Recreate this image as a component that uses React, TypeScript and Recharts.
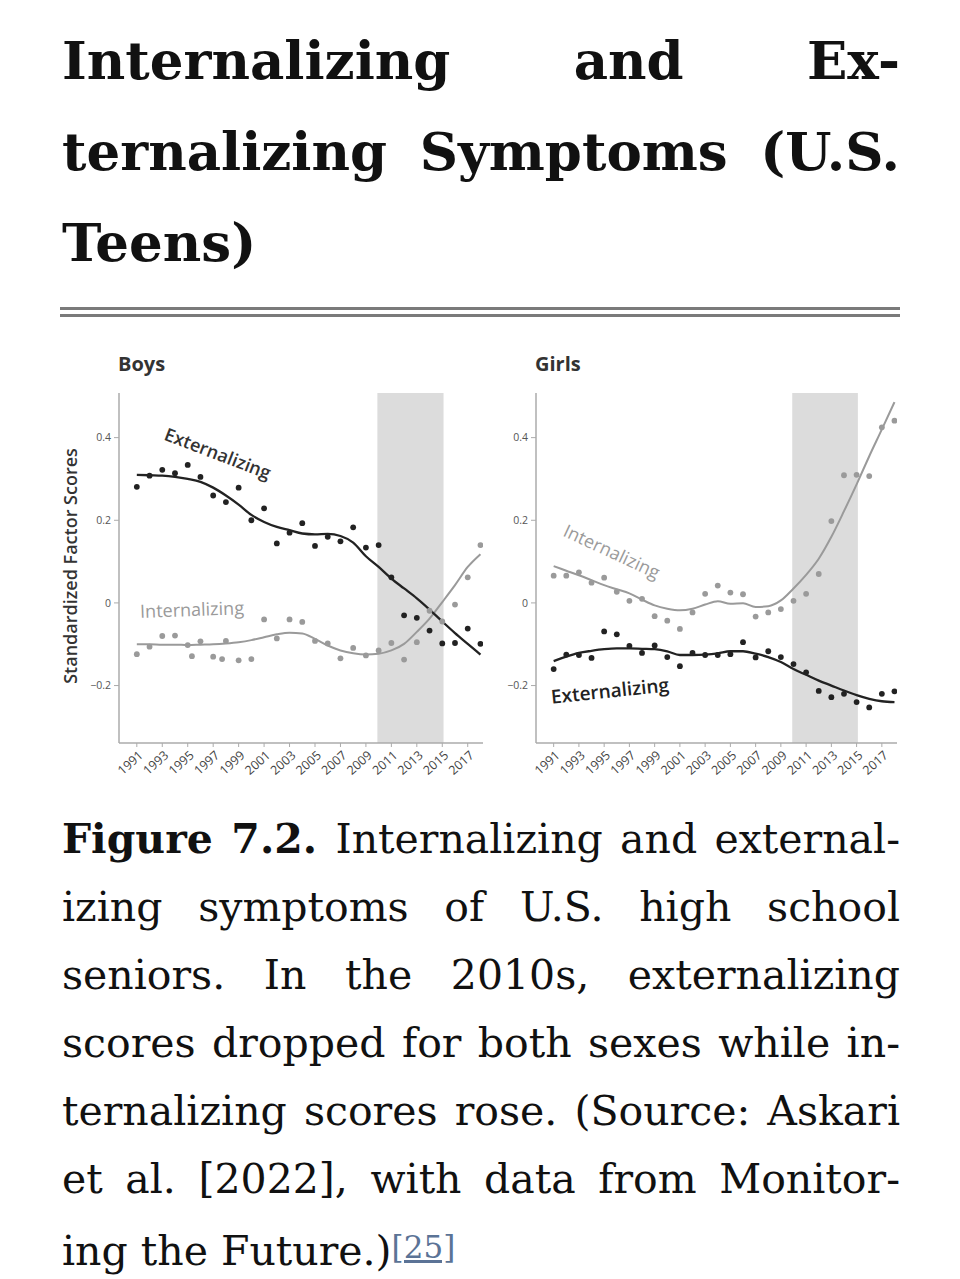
import React from 'react';
import { ComposedChart, Line, Scatter, XAxis, YAxis, ReferenceArea } from 'recharts';

// ---------- data ----------
const YEARS = [1991, 1992, 1993, 1994, 1995, 1996, 1997, 1998, 1999, 2000, 2001, 2002, 2003, 2004,
  2005, 2006, 2007, 2008, 2009, 2010, 2011, 2012, 2013, 2014, 2015, 2016, 2017, 2018];
const X_TICKS = [1991, 1993, 1995, 1997, 1999, 2001, 2003, 2005, 2007, 2009, 2011, 2013, 2015, 2017];
const Y_TICKS = [-0.2, 0, 0.2, 0.4];
const SHADE_START = 2009.9;
const SHADE_END = 2015.1;

// Boys
const boysExtDots = [0.281, 0.308, 0.322, 0.314, 0.334, 0.305, 0.260, 0.244, 0.279, 0.200, 0.229, 0.144, 0.170, 0.193,
  0.138, 0.160, 0.149, 0.183, 0.134, 0.140, 0.062, -0.030, -0.036, -0.067, -0.098, -0.097, -0.062, -0.099];
const boysExtTrend = [0.310, 0.309, 0.308, 0.305, 0.300, 0.293, 0.279, 0.260, 0.238, 0.213, 0.196, 0.184, 0.176, 0.168,
  0.166, 0.167, 0.162, 0.146, 0.113, 0.087, 0.059, 0.035, 0.011, -0.016, -0.045, -0.073, -0.099, -0.125];
const boysIntDotYears = [1991, 1992, 1993, 1994, 1995, 1995.33, 1996, 1997, 1997.7, 1998, 1999, 2000, 2001, 2002,
  2003, 2004, 2005, 2006, 2007, 2008, 2009, 2010, 2011, 2012, 2013, 2014, 2015, 2016, 2017, 2018];
const boysIntDots = [-0.124, -0.106, -0.080, -0.079, -0.102, -0.129, -0.093, -0.130, -0.136, -0.092, -0.139, -0.136,
  -0.040, -0.086, -0.040, -0.046, -0.092, -0.098, -0.134, -0.109, -0.127, -0.115, -0.097, -0.137, -0.095, -0.019,
  -0.045, -0.004, 0.062, 0.140];
const boysIntTrend = [-0.100, -0.100, -0.101, -0.101, -0.102, -0.101, -0.100, -0.098, -0.095, -0.090, -0.083, -0.076,
  -0.072, -0.074, -0.087, -0.103, -0.115, -0.122, -0.125, -0.123, -0.115, -0.099, -0.070, -0.038, 0.002, 0.043, 0.087, 0.118];

// Girls
const girlsIntDots = [0.066, 0.066, 0.074, 0.049, 0.061, 0.027, 0.005, 0.010, -0.032, -0.043, -0.063, -0.023, 0.022,
  0.042, 0.025, 0.021, -0.033, -0.023, -0.015, 0.005, 0.022, 0.070, 0.198, 0.309, 0.310, 0.307, 0.425, 0.441];
const girlsIntTrend = [0.089, 0.078, 0.067, 0.055, 0.043, 0.033, 0.023, 0.008, -0.006, -0.014, -0.018, -0.014, -0.004,
  0.004, -0.002, -0.001, -0.010, -0.008, 0.006, 0.035, 0.068, 0.107, 0.160, 0.222, 0.287, 0.355, 0.420, 0.486];
const girlsExtDots = [-0.160, -0.125, -0.126, -0.133, -0.069, -0.076, -0.104, -0.121, -0.103, -0.131, -0.153, -0.121,
  -0.126, -0.126, -0.124, -0.095, -0.132, -0.117, -0.131, -0.148, -0.168, -0.213, -0.228, -0.220, -0.240, -0.253,
  -0.220, -0.214];
const girlsExtTrend = [-0.141, -0.130, -0.121, -0.116, -0.112, -0.110, -0.110, -0.111, -0.112, -0.117, -0.126, -0.126,
  -0.125, -0.122, -0.117, -0.117, -0.123, -0.131, -0.143, -0.160, -0.174, -0.188, -0.200, -0.212, -0.223, -0.232,
  -0.238, -0.240];

const TITLE_LINES = ['Internalizing and Ex-', 'ternalizing Symptoms (U.S.', 'Teens)'];
const CAPTION_LINES = [
  'Internalizing and external-',
  'izing symptoms of U.S. high school',
  'seniors. In the 2010s, externalizing',
  'scores dropped for both sexes while in-',
  'ternalizing scores rose. (Source: Askari',
  'et al. [2022], with data from Monitor-',
  'ing the Future.)',
];

// ---------- helpers ----------
const toPts = (xs: number[], ys: number[]) => xs.map((x, i) => ({ year: x, v: ys[i] }));

const SANS = '"Open Sans", "Noto Sans", sans-serif';
const SERIF = '"DejaVu Serif", serif';
const BLACK = '#222222';
const GRAY = '#9a9a9a';
const AXIS = '#ababab';

const fmtY = (v: number) => (v === 0 ? '0' : v < 0 ? '\u2212' + Math.abs(v) : String(v));

function XTick(props: any) {
  const { x, y, payload } = props;
  return (
    <text
      x={0}
      y={0}
      transform={`translate(${x + 4},${y + 4}) rotate(-42)`}
      textAnchor="end"
      dominantBaseline="central"
      fontSize={12.5}
      fill="#444"
      fontFamily={SANS}
    >
      {payload.value}
    </text>
  );
}

const dotShape = (color: string) => (p: any) => <circle cx={p.cx} cy={p.cy} r={2.9} fill={color} />;

function Panel(props: {
  left: number; width: number; yAxisWidth: number; rightMargin: number;
  extDots: any[]; extTrend: any[]; intDots: any[]; intTrend: any[];
}) {
  const { left, width, yAxisWidth, rightMargin, extDots, extTrend, intDots, intTrend } = props;
  return (
    <div style={{ position: 'absolute', left, top: 380 }}>
      <ComposedChart width={width} height={420} margin={{ top: 13, right: rightMargin, bottom: 7, left: 0 }}>
        <XAxis
          type="number"
          dataKey="year"
          domain={[1989.6, 2018.2]}
          allowDataOverflow
          ticks={X_TICKS}
          interval={0}
          height={50}
          tickSize={4}
          tick={<XTick />}
          axisLine={{ stroke: AXIS, strokeWidth: 1.5 }}
          tickLine={{ stroke: AXIS }}
        />
        <YAxis
          type="number"
          domain={[-0.339, 0.508]}
          allowDataOverflow
          ticks={Y_TICKS}
          width={yAxisWidth}
          tickSize={5}
          tickMargin={3}
          tickFormatter={fmtY}
          tick={{ fontSize: 10.5, fill: '#555', fontFamily: SANS }}
          axisLine={{ stroke: AXIS, strokeWidth: 1.5 }}
          tickLine={{ stroke: AXIS }}
        />
        <ReferenceArea x1={SHADE_START} x2={SHADE_END} fill="#dcdcdc" fillOpacity={1} stroke="none" ifOverflow="hidden" />
        <Scatter data={intDots} dataKey="v" shape={dotShape(GRAY)} isAnimationActive={false} />
        <Line data={intTrend} dataKey="v" type="monotone" stroke={GRAY} strokeWidth={2} dot={false}
          activeDot={false} isAnimationActive={false} />
        <Scatter data={extDots} dataKey="v" shape={dotShape(BLACK)} isAnimationActive={false} />
        <Line data={extTrend} dataKey="v" type="monotone" stroke={BLACK} strokeWidth={2.3} dot={false}
          activeDot={false} isAnimationActive={false} />
      </ComposedChart>
    </div>
  );
}

function Note(props: { x: number; y: number; angle: number; color: string; size: number; weight: number; text: string }) {
  const { x, y, angle, color, size, weight, text } = props;
  return (
    <div
      style={{
        position: 'absolute', left: x, top: y, transform: `translate(-50%,-50%) rotate(${angle}deg)`,
        fontFamily: SANS, fontSize: size, fontWeight: weight, color, whiteSpace: 'nowrap', lineHeight: 1,
      }}
    >
      {text}
    </div>
  );
}

const justLine: React.CSSProperties = { textAlign: 'justify', textAlignLast: 'justify', whiteSpace: 'nowrap' };

export default function App() {
  return (
    <div style={{ position: 'absolute', left: 0, top: 0, width: 960, height: 1279, background: '#fff', overflow: 'hidden' }}>
      {/* Title */}
      <div style={{ position: 'absolute', left: 62, top: 15, width: 838, fontFamily: SERIF, fontWeight: 700,
        fontSize: 53, lineHeight: '91px', color: '#111' }}>
        {TITLE_LINES.map((l, i) => (
          <div key={i} style={i < TITLE_LINES.length - 1 ? justLine : { whiteSpace: 'nowrap' }}>{l}</div>
        ))}
      </div>
      {/* double rule */}
      <div style={{ position: 'absolute', left: 60, top: 307, width: 840, height: 3, background: '#7a7a7a' }} />
      <div style={{ position: 'absolute', left: 60, top: 314, width: 840, height: 3, background: '#7a7a7a' }} />

      {/* panel titles */}
      <div style={{ position: 'absolute', left: 118, top: 354, fontFamily: SANS, fontWeight: 700, fontSize: 20,
        lineHeight: '20px', color: '#333' }}>Boys</div>
      <div style={{ position: 'absolute', left: 535, top: 354, fontFamily: SANS, fontWeight: 700, fontSize: 20,
        lineHeight: '20px', color: '#333' }}>Girls</div>

      {/* y axis label */}
      <div style={{ position: 'absolute', left: 70, top: 566, transform: 'translate(-50%,-50%) rotate(-90deg)',
        fontFamily: SANS, fontWeight: 600, fontSize: 18, color: '#333', whiteSpace: 'nowrap', lineHeight: 1 }}>
        Standardized Factor Scores
      </div>

      <Panel left={40} width={460} yAxisWidth={79} rightMargin={17}
        extDots={toPts(YEARS, boysExtDots)} extTrend={toPts(YEARS, boysExtTrend)}
        intDots={toPts(boysIntDotYears, boysIntDots)} intTrend={toPts(YEARS, boysIntTrend)} />
      <Panel left={480} width={440} yAxisWidth={56} rightMargin={23}
        extDots={toPts(YEARS, girlsExtDots)} extTrend={toPts(YEARS, girlsExtTrend)}
        intDots={toPts(YEARS, girlsIntDots)} intTrend={toPts(YEARS, girlsIntTrend)} />

      {/* series annotations */}
      <Note x={218} y={453} angle={21} color="#333" size={18} weight={600} text="Externalizing" />
      <Note x={192} y={609} angle={-2} color={GRAY} size={18} weight={500} text="Internalizing" />
      <Note x={612} y={551} angle={25} color={GRAY} size={18} weight={500} text="Internalizing" />
      <Note x={610} y={691} angle={-6} color="#222" size={19} weight={600} text="Externalizing" />

      {/* caption */}
      <div style={{ position: 'absolute', left: 62, top: 805, width: 838, fontFamily: SERIF, fontSize: 41,
        lineHeight: '68px', color: '#111' }}>
        {CAPTION_LINES.map((l, i) => (
          <div key={i} style={i < CAPTION_LINES.length - 1 ? justLine : { whiteSpace: 'nowrap' }}>
            {i === 0 && <b>Figure 7.2. </b>}
            {l}
            {i === CAPTION_LINES.length - 1 && (
              <span style={{ fontSize: 31, color: '#5b7396', textDecoration: 'underline', verticalAlign: 7 }}>[25]</span>
            )}
          </div>
        ))}
      </div>
    </div>
  );
}
